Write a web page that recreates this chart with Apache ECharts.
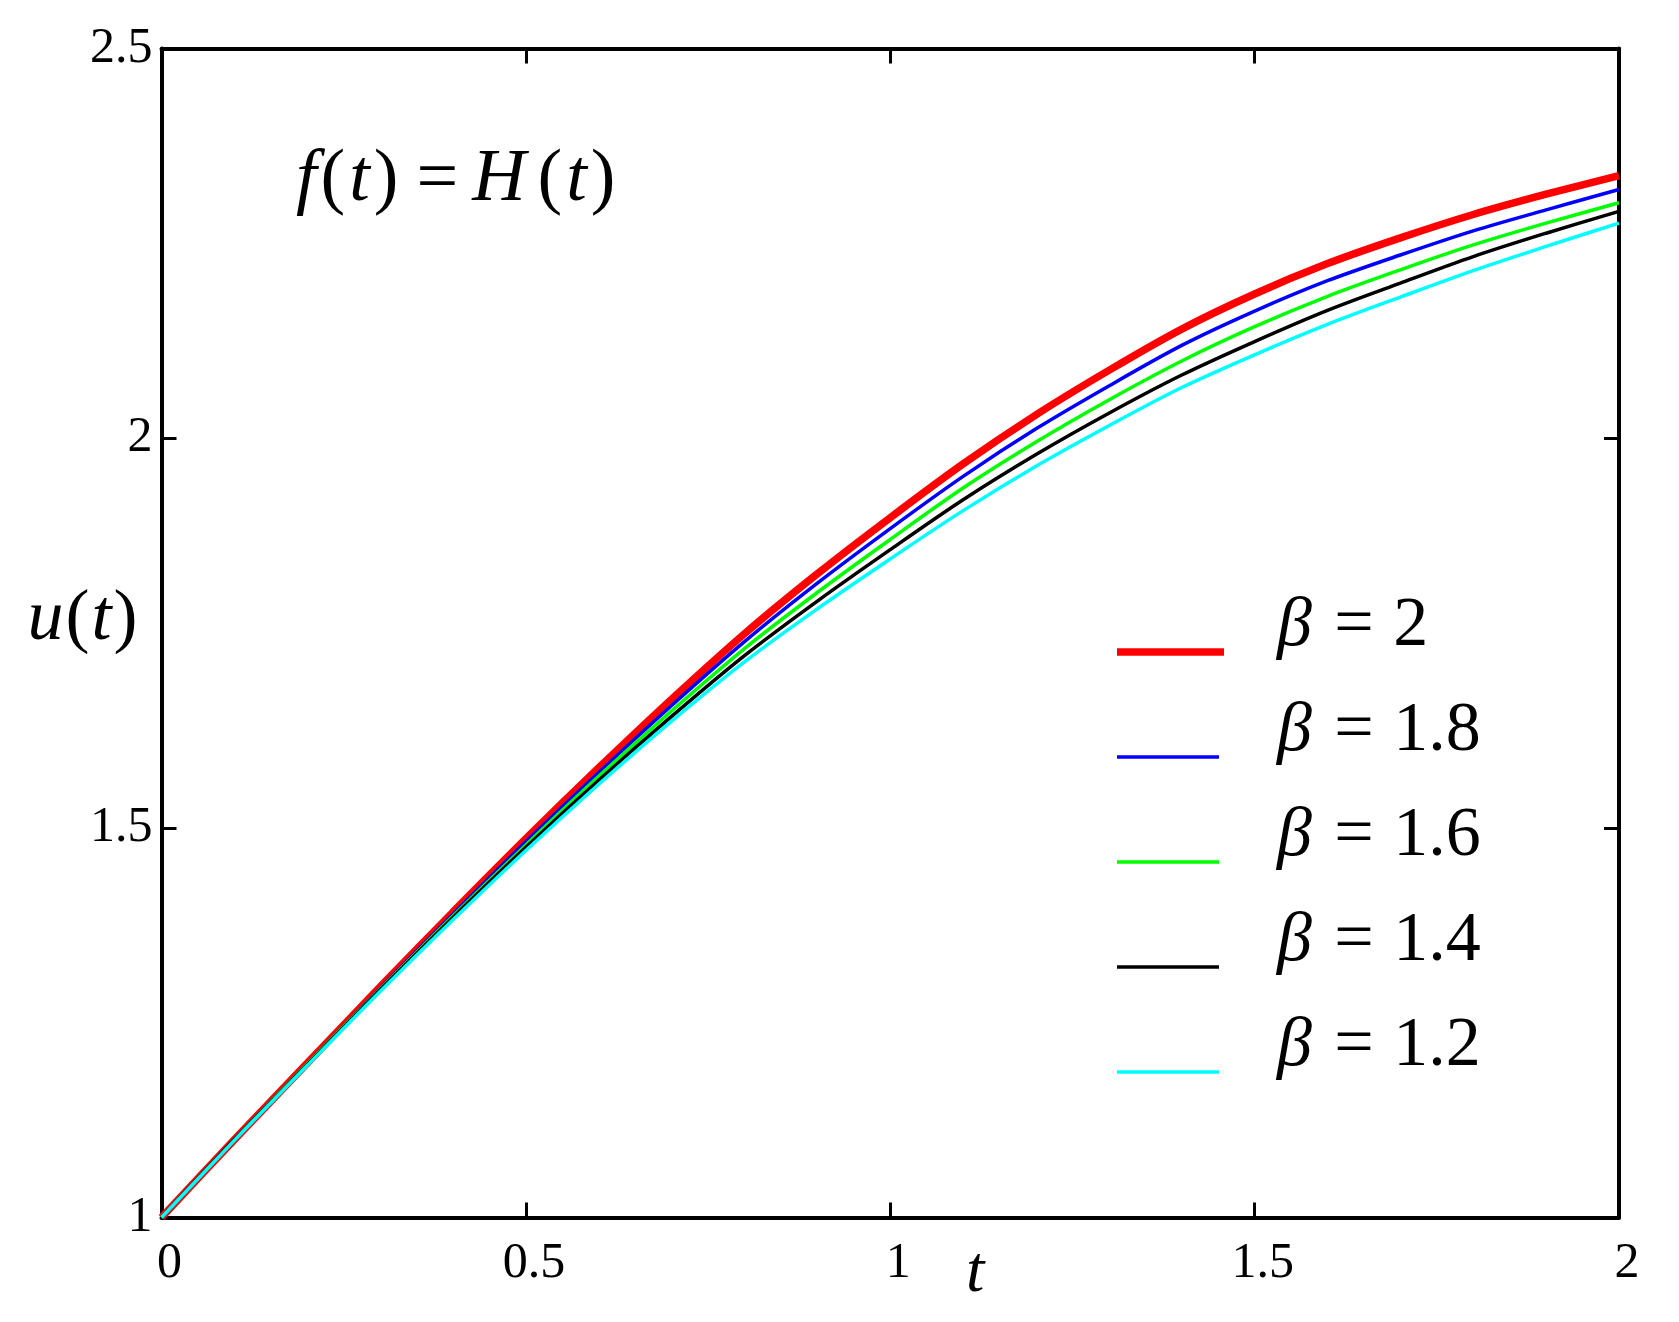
<!DOCTYPE html>
<html>
<head>
<meta charset="utf-8">
<script src="https://cdn.jsdelivr.net/npm/echarts@6/dist/echarts.min.js"></script>
<style>
  html, body { margin: 0; padding: 0; background: #fff; }
  #main { width: 1679px; height: 1322px; }
</style>
</head>
<body>
<div id="main"></div>
<script>
// values, t = 0 .. 2 step 0.1
var tValues = [0, 0.1, 0.2, 0.3, 0.4, 0.5, 0.6, 0.7, 0.8, 0.9, 1.0, 1.1, 1.2, 1.3, 1.4, 1.5, 1.6, 1.7, 1.8, 1.9, 2.0];
var uBeta20 = [1.000, 1.100, 1.198, 1.296, 1.392, 1.486, 1.577, 1.665, 1.749, 1.826, 1.898, 1.967, 2.030, 2.087, 2.140, 2.185, 2.224, 2.257, 2.287, 2.313, 2.337];
var uBeta18 = [1.000, 1.100, 1.197, 1.294, 1.389, 1.482, 1.571, 1.657, 1.739, 1.814, 1.884, 1.951, 2.012, 2.067, 2.119, 2.163, 2.202, 2.235, 2.266, 2.293, 2.319];
var uBeta16 = [1.000, 1.100, 1.197, 1.293, 1.387, 1.478, 1.566, 1.650, 1.730, 1.802, 1.870, 1.936, 1.995, 2.049, 2.099, 2.143, 2.182, 2.216, 2.248, 2.276, 2.302];
var uBeta14 = [1.000, 1.100, 1.196, 1.292, 1.385, 1.475, 1.561, 1.643, 1.721, 1.791, 1.857, 1.921, 1.979, 2.032, 2.081, 2.124, 2.164, 2.199, 2.233, 2.263, 2.291];
var uBeta12 = [1.000, 1.099, 1.195, 1.290, 1.382, 1.471, 1.556, 1.637, 1.713, 1.781, 1.845, 1.907, 1.964, 2.016, 2.065, 2.107, 2.146, 2.181, 2.215, 2.246, 2.276];

var betaLabels = ['2', '1.8', '1.6', '1.4', '1.2'];
var seriesValues = [uBeta20, uBeta18, uBeta16, uBeta14, uBeta12];
var colors = ['#ff0000', '#0000ff', '#00ff00', '#000000', '#00ffff'];
var lineWidths = [7.5, 3.5, 3.5, 3.5, 3.5];
var legendLineLen = [107, 102, 102, 102, 102];

var xTicks = ['0', '0.5', '1', '1.5', '2'];
var yTicks = ['1', '1.5', '2', '2.5'];

var font = 'Liberation Serif';
var chart = echarts.init(document.getElementById('main'));

var series = [];
var legendData = [];
for (var i = 0; i < seriesValues.length; i++) {
  var pts = [];
  for (var j = 0; j < tValues.length; j++) {
    pts.push([tValues[j], seriesValues[i][j]]);
  }
  var name = 'β = ' + betaLabels[i];
  var y0 = 60 - lineWidths[i] / 2, y1 = 60 + lineWidths[i] / 2, len = legendLineLen[i];
  legendData.push({
    name: name,
    // line drawn low in a 155x70 box so it sits under the text centre
    icon: 'path://M0,0M155,70M0,' + y0 + 'L' + len + ',' + y0 + 'L' + len + ',' + y1 + 'L0,' + y1 + 'Z'
  });
  series.push({
    name: name,
    type: 'line',
    data: pts,
    showSymbol: false,
    symbol: 'none',
    smooth: 0.3,
    color: colors[i],
    lineStyle: { color: colors[i], width: lineWidths[i] }
  });
}

var axisLine = { show: true, onZero: false, lineStyle: { color: '#000', width: 4 } };
var axisTick = { show: true, inside: true, length: 15, lineStyle: { color: '#000', width: 3 } };

var option = {
  animation: false,
  backgroundColor: '#fff',
  grid: { left: 161.5, right: 60, top: 48.5, bottom: 104.5, outerBoundsMode: 'none' },
  xAxis: [{
    type: 'value', min: 0, max: 2, interval: 0.5, position: 'bottom',
    axisLine: axisLine, axisTick: axisTick, splitLine: { show: false },
    axisLabel: {
      margin: 21, color: '#000', fontFamily: font, fontSize: 50, padding: [0, 0, 0, 16],
      formatter: function (v) { return xTicks[Math.round(v / 0.5)]; }
    },
    name: 't', nameLocation: 'middle', nameGap: 23, nameMoveOverlap: false,
    nameTextStyle: { fontFamily: font, fontStyle: 'italic', fontSize: 66, color: '#000', padding: [0, 0, 0, 170] }
  }, {
    type: 'value', min: 0, max: 2, interval: 0.5, position: 'top',
    axisLine: axisLine, axisTick: axisTick, splitLine: { show: false }, axisLabel: { show: false }
  }],
  yAxis: [{
    type: 'value', min: 1, max: 2.5, interval: 0.5, position: 'left',
    axisLine: axisLine, axisTick: axisTick, splitLine: { show: false },
    axisLabel: {
      margin: 9, color: '#000', fontFamily: font, fontSize: 50, padding: [12, 0, 0, 0],
      formatter: function (v) { return yTicks[Math.round((v - 1) / 0.5)]; }
    },
    name: '{i|u}{p|(}{i|t}{p|)}', nameLocation: 'middle', nameRotate: 0, nameGap: 22, nameMoveOverlap: false,
    nameTextStyle: {
      color: '#000', padding: [0, 0, 26, 0],
      rich: {
        i: { fontFamily: font, fontStyle: 'italic', fontSize: 72, color: '#000' },
        p: { fontFamily: font, fontSize: 72, color: '#000', padding: [0, 2] }
      }
    }
  }, {
    type: 'value', min: 1, max: 2.5, interval: 0.5, position: 'right',
    axisLine: axisLine, axisTick: axisTick, splitLine: { show: false }, axisLabel: { show: false }
  }],
  legend: {
    orient: 'vertical', left: 1112, top: 587,
    itemWidth: 155, itemHeight: 70, itemGap: 35,
    selectedMode: false,
    itemStyle: { borderWidth: 0 },
    textStyle: {
      fontFamily: font, fontSize: 70, color: '#000',
      rich: {
        b: { fontFamily: font, fontSize: 70, fontStyle: 'italic', color: '#000' },
        n: { fontFamily: font, fontSize: 70, color: '#000', padding: [0, 0, 0, 5] },
        d: { fontFamily: font, fontSize: 70, color: '#000', padding: [0, 0, 0, 2] }
      }
    },
    formatter: function (n) { return '{b|β}{n| = }{d|' + n.slice(4) + '}'; },
    data: legendData
  },
  graphic: [{
    type: 'text', left: 296, top: 144,
    style: {
      text: '{i|f}{p|(}{i|t}{p|)}{e|=}{i|H}{q|(}{i|t}{p|)}',
      rich: {
        i: { fontFamily: font, fontStyle: 'italic', fontSize: 74, fill: '#000' },
        p: { fontFamily: font, fontSize: 74, fill: '#000', padding: [0, 4] },
        q: { fontFamily: font, fontSize: 74, fill: '#000', padding: [0, 4, 0, 12] },
        e: { fontFamily: font, fontSize: 74, fill: '#000', padding: [0, 14] }
      }
    }
  }],
  series: series
};
chart.setOption(option);
</script>
</body>
</html>
